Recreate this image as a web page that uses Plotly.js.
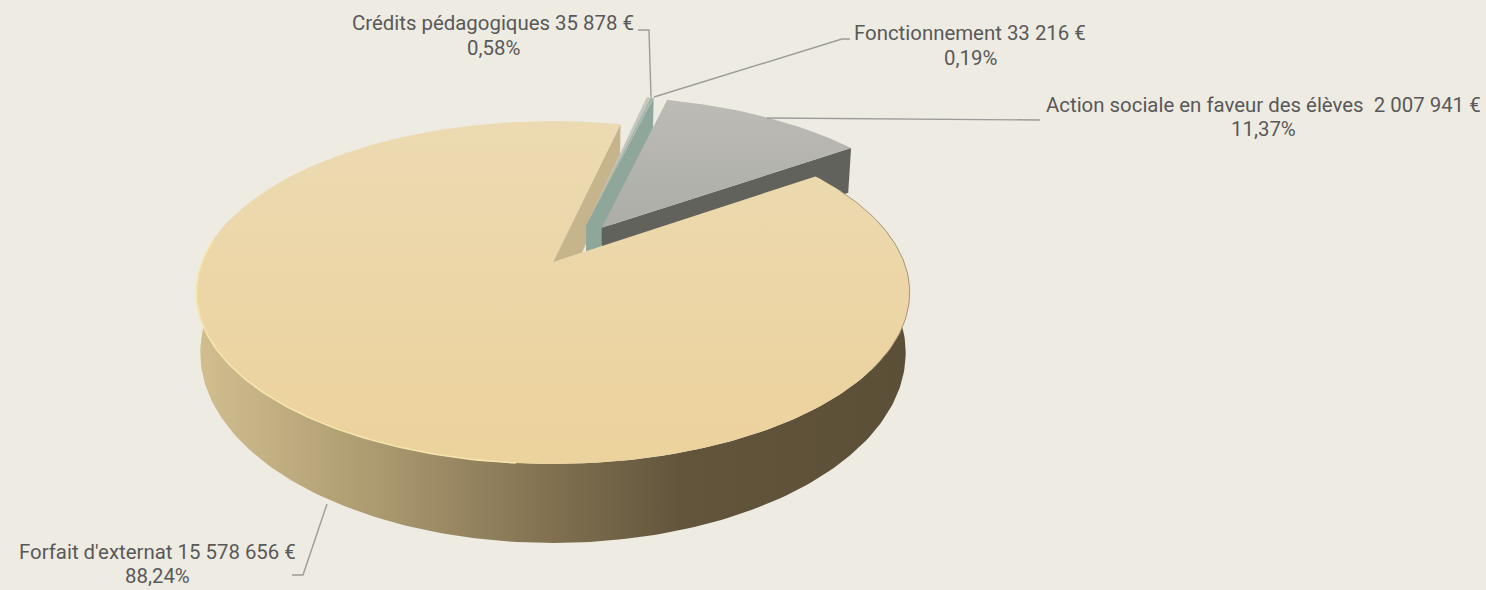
<!DOCTYPE html>
<html>
<head>
<meta charset="utf-8">
<script src="https://cdn.plot.ly/plotly-3.0.0.min.js"></script>
<style>html,body{margin:0;padding:0;background:#EEEBE3}#chart{width:1486px;height:590px}</style>
</head>
<body>
<div id="chart"></div>
<script>
// ---- data ----
const categories = ["Forfait d'externat", "Crédits pédagogiques", "Fonctionnement", "Action sociale en faveur des élèves "];
const amounts = [15578656, 35878, 33216, 2007941];
const amountLabels = ["15 578 656 €", "35 878 €", "33 216 €", "2 007 941 €"];
const percentLabels = ["88,24%", "0,58%", "0,19%", "11,37%"];

// ---- 3D look of the pie ----
const cx = 553, cy = 262, A = 351, Bt = 166, Bb = 176, Cb = 58, K = 0.178, M = 0.011;
const startDeg = 55.4;
const explodeDist = [0, 0.252, 0.252, 0.258];
const explodeDir = [0, 23, 23, 34];
const labelX = [157, 493, 970, 1263];
const labelY1 = [552, 23, 33, 105];
const labelY2 = [576, 48, 58, 129];
const leaders = [
  [[327,504],[303,575],[292,575]],
  [[651,97],[649,30],[638,30]],
  [[654,97],[842,39],[850,39]],
  [[767,118],[1040,120]]
];

const total = amounts.reduce((a,b)=>a+b,0);
const rad = d => d*Math.PI/180;
let acc = startDeg;
const slices = amounts.map((v,i)=>{
  const s = acc, e = acc + v/total*360; acc = e;
  const ex = explodeDist[i]*Math.sin(rad(explodeDir[i]));
  const ey = explodeDist[i]*Math.cos(rad(explodeDir[i]));
  return {s,e,ex,ey};
});
function topP(x,y){const w=1+K*y;return [cx+A*x/w, cy-Bt*y/w];}
function botP(x,y){const w=1+K*y+M;return [cx+A*x/w, cy-(Bb*y-Cb)/w];}
function disc(sl,deg,r){return [sl.ex+r*Math.sin(rad(deg)), sl.ey+r*Math.cos(rad(deg))];}
function arc(sl,a,b,fn){const p=[],n=Math.max(2,Math.ceil(Math.abs(b-a)));
  for(let i=0;i<=n;i++){const d=a+(b-a)*i/n,q=disc(sl,d,1);p.push(fn(q[0],q[1]));}return p;}
function poly(pts,opt){
  return Object.assign({type:'scatter',mode:'lines',x:pts.map(p=>p[0]),y:pts.map(p=>p[1]),
    fill:'toself',line:{width:0,color:'rgba(0,0,0,0)'},hoverinfo:'skip',showlegend:false},opt);
}
function edge(pts,color,width){
  return {type:'scatter',mode:'lines',x:pts.map(p=>p[0]),y:pts.map(p=>p[1]),
    line:{color:color,width:width},hoverinfo:'skip',showlegend:false};
}
function sector(sl,fn){const a=disc(sl,0,0);return [fn(a[0],a[1])].concat(arc(sl,sl.s,sl.e,fn));}
function cutWall(sl,deg){const a=disc(sl,0,0),q=disc(sl,deg,1);
  return [topP(a[0],a[1]),topP(q[0],q[1]),botP(q[0],q[1]),botP(a[0],a[1])];}

const [fo,cr,fn2,ac] = slices;
const whole = {ex:0,ey:0};
const traces = [];
// wall of the main slice, facing the gap
traces.push(poly(cutWall(fo,fo.e),{fillcolor:'#C6B48C'}));
// thin exploded slices
traces.push(poly(cutWall(fn2,fn2.e),{fillcolor:'#8FA79A'}));
traces.push(poly(sector(cr,topP),{fillcolor:'#C6C5BE'}));
traces.push(poly(sector(fn2,topP),{fillcolor:'#A6B8AC'}));
// action sociale: dark wall then top
traces.push(poly(cutWall(ac,ac.e),{fillcolor:'#62625C'}));
traces.push(poly(sector(ac,topP),{fillgradient:{type:'vertical',colorscale:[[0,'#ACADA7'],[1,'#BDBBB5']]}}));
// rim of the main slice
const rimA = 75, rimB = 285;
const rim = arc(whole,rimA,rimB,topP).concat(arc(whole,rimB,rimA,botP));
traces.push(poly(rim,{fillgradient:{type:'horizontal',colorscale:[
  [0,'#D2BF90'],[0.25,'#AC9A70'],[0.5,'#807050'],[0.68,'#62553C'],[1,'#5C4F37']]}}));
// top of the main slice
traces.push(poly(sector(fo,topP),{fillgradient:{type:'vertical',colorscale:[[0,'#ECD29C'],[1,'#ECDAB2']]}}));
// bevel highlights along the front edge
traces.push(edge(arc(whole,185,278,topP),'#F6E6AE',1.5));
traces.push(edge(arc(whole,62,125,topP),'#A89C7E',1));

const labelFont = {family:'Roboto, sans-serif',size:20.4,color:'#595959'};
const annotations = [];
categories.forEach((c,i)=>{
  annotations.push({x:labelX[i],y:labelY1[i],xref:'x',yref:'y',showarrow:false,align:'center',
    text:c+' '+amountLabels[i],font:labelFont});
  annotations.push({x:labelX[i],y:labelY2[i],xref:'x',yref:'y',showarrow:false,align:'center',
    text:percentLabels[i],font:labelFont});
});
const shapes = leaders.map(l=>({
  type:'path',xref:'x',yref:'y',
  path:l.map((p,i)=>(i?'L':'M')+p[0]+' '+p[1]).join(' '),
  line:{color:'#9C9C98',width:1.4}
}));

Plotly.newPlot('chart',traces,{
  width:1486,height:590,margin:{l:0,r:0,t:0,b:0},
  paper_bgcolor:'#EEEBE3',plot_bgcolor:'#EEEBE3',showlegend:false,
  xaxis:{range:[0,1486],visible:false,fixedrange:true},
  yaxis:{range:[590,0],visible:false,fixedrange:true},
  annotations,shapes
},{displayModeBar:false,staticPlot:true});
</script>
</body>
</html>
